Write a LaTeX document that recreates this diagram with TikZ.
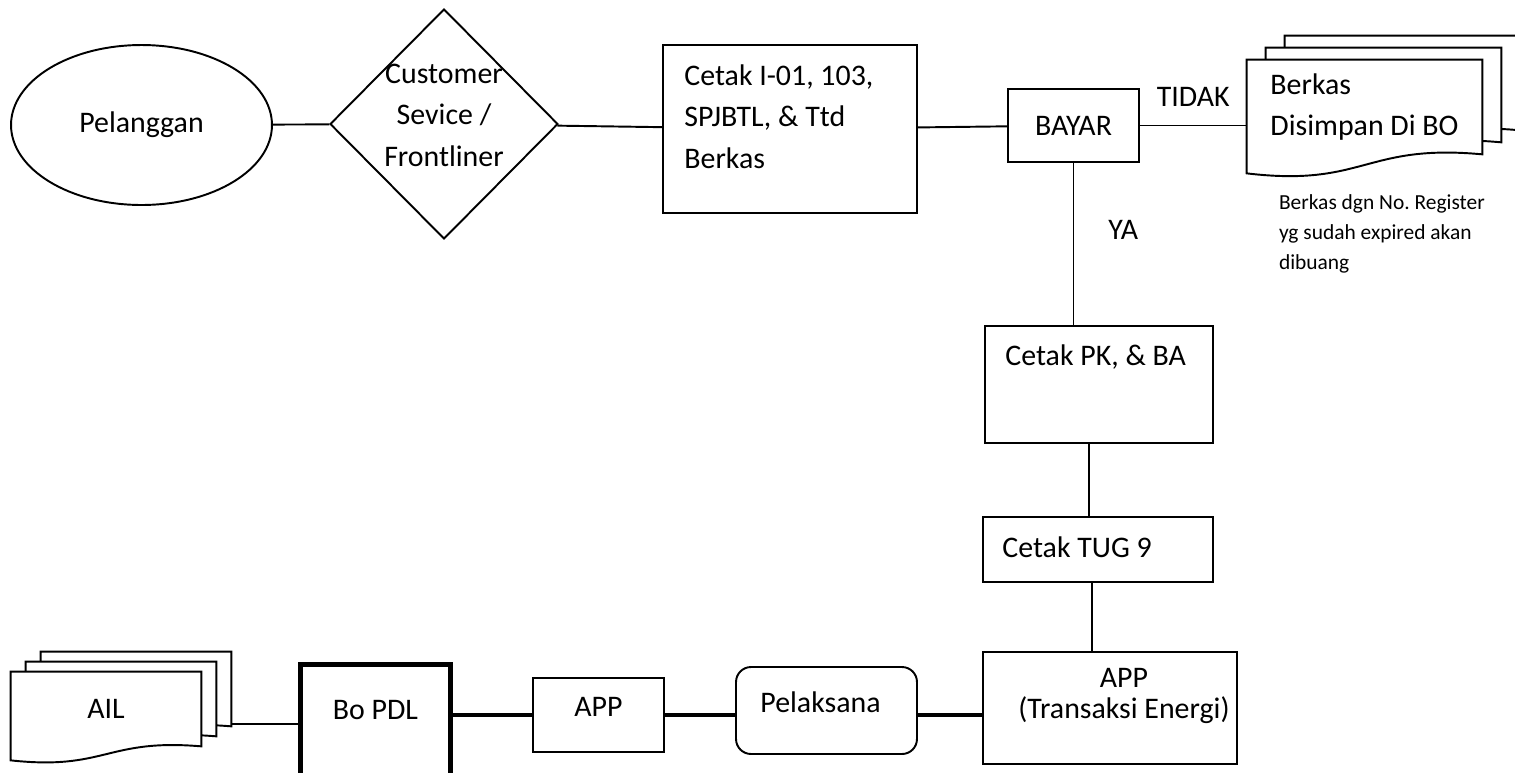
\documentclass[tikz,border=0pt]{standalone}
\usepackage{fontspec}
\setmainfont{Carlito}
\usetikzlibrary{positioning, backgrounds, calc, shapes.geometric}
\frenchspacing
\tikzset{%
	outline/.style={draw, line width=1.1pt, inner sep=0mm},
	proc/.style={outline, rectangle},
	heavybox/.style={proc, line width=2.8pt},
	connector/.style={line width=1.1pt},
	heavy/.style={line width=2pt},
	page/.style={draw, fill=white, line width=1.1pt},
	txt/.style={inner sep=0mm, align=left},
	note/.style={inner sep=0mm, align=left, font=\fontsize{12.2pt}{17pt}\selectfont}
}
% stack of three pages behind a node: node, dx, dy, drop of the wavy edge
\newcommand{\docstack}[4]{%
	\foreach \k in {2,1,0}
		\draw[page] ($(#1.north west)+(\k*#2,\k*#3)$) -- ($(#1.north east)+(\k*#2,\k*#3)$)
			-- ($(#1.south east)+(\k*#2,\k*#3)$)
			.. controls ($(#1.south)+(\k*#2,\k*#3-0.58*#4)$) and ($(#1.south)+(\k*#2,\k*#3+1.74*#4)$)
			.. ($(#1.south west)+(\k*#2,\k*#3+#4)$) -- cycle;
}

\begin{document}
\begin{tikzpicture}[x=0.02cm, y=-0.02cm, font=\fontsize{17pt}{23.6pt}\selectfont]
	\useasboundingbox (0,0) rectangle (1515,772);

	% top row
	\node[outline, ellipse, minimum width=5.22cm, minimum height=3.2cm] (pelanggan) at (141.5,125) {Pelanggan};
	\node[outline, diamond, minimum width=4.56cm, minimum height=4.6cm] (cs) at (444,124) {};
	\node[txt, align=center] (cstxt) at ([yshift=1.8mm]cs.center) {Customer\\Sevice /\\Frontliner};
	\node[proc, minimum width=5.08cm, minimum height=3.36cm] (cetak) at (790,129) {};
	\node[txt, right=4.4mm of cetak.west, yshift=2.5mm] (cetaktxt) {Cetak I-01, 103,\\SPJBTL, \& Ttd\\Berkas};
	\node[proc, minimum width=2.62cm, minimum height=1.46cm] (bayar) at (1073.5,125.5) {BAYAR};
	\node[txt, minimum width=4.7cm, minimum height=1.88cm] (berkas) at (1364.5,107) {Berkas\\Disimpan Di BO};
	\node[note, below right=8mm and 6.4mm of berkas.south west] (expired)
		{Berkas dgn No. Register\\yg sudah expired akan\\dibuang};

	% right column
	\node[proc, minimum width=4.56cm, minimum height=2.34cm] (pk) at (1099,384.5) {};
	\node[txt, right=4.2mm of pk.west, yshift=5.5mm] (pktxt) {Cetak PK, \& BA};
	\node[proc, minimum width=4.6cm, minimum height=1.3cm] (tug) at (1098,549.5) {};
	\node[txt, right=4mm of tug.west, yshift=0.5mm] (tugtxt) {Cetak TUG 9};
	\node[proc, minimum width=5.08cm, minimum height=2.24cm] (app) at (1110,708) {};
	\node[txt, align=center] (apptxt) at ([xshift=2.8mm, yshift=2.4mm]app.center)
		{APP\\[-6pt](Transaksi Energi)};

	% bottom row
	\node[proc, rounded corners=3mm, minimum width=3.62cm, minimum height=1.74cm] (pelaksana) at (826.5,710.5) {};
	\node[txt] (pelaksanatxt) at ([xshift=-1.2mm, yshift=1.6mm]pelaksana.center) {Pelaksana};
	\node[proc, minimum width=2.62cm, minimum height=1.48cm] (appsmall) at (598.5,715) {};
	\node[txt] (appsmalltxt) at ([yshift=1.6mm]appsmall.center) {APP};
	\node[heavybox, minimum width=3cm, minimum height=2.71cm] (bopdl) at (375.5,732) {};
	\node[txt] (bopdltxt) at ([yshift=4.4mm]bopdl.center) {Bo PDL};
	\node[minimum width=3.8cm, minimum height=1.48cm, inner sep=0mm] (ail) at (106,709) {AIL};

	\begin{scope}[on background layer]
		\docstack{berkas}{19}{-12}{19}
		\docstack{ail}{15}{-10}{14}
	\end{scope}
	\coordinate (ailend) at ($(ail.south east)+(30,-22)$);

	\draw[connector] (pelanggan) -- (cs);
	\draw[connector] (cs) -- (cetak);
	\draw[connector] (cetak) -- (bayar);
	\draw[connector] (bayar) -- node[txt, above=3.6mm] (tidak) {TIDAK} (bayar -| berkas.west);
	\draw[connector] (bayar.south) -- node[txt, pos=0.415, right=6.8mm] (ya) {YA} (bayar.south |- pk.north);
	\draw[connector] ([xshift=-2mm]pk.south) -- ([xshift=-2mm]pk.south |- tug.north);
	\draw[connector] ([xshift=-1.2mm]tug.south) -- ([xshift=-1.2mm]tug.south |- app.north);
	\draw[heavy] (appsmall -| pelaksana.east) -- (appsmall -| app.west);
	\draw[heavy] (appsmall) -- (appsmall -| pelaksana.west);
	\draw[heavy] (appsmall -| bopdl.east) -- (appsmall);
	\draw[connector] (ailend) -- (ailend -| bopdl.west);
\end{tikzpicture}
\end{document}
